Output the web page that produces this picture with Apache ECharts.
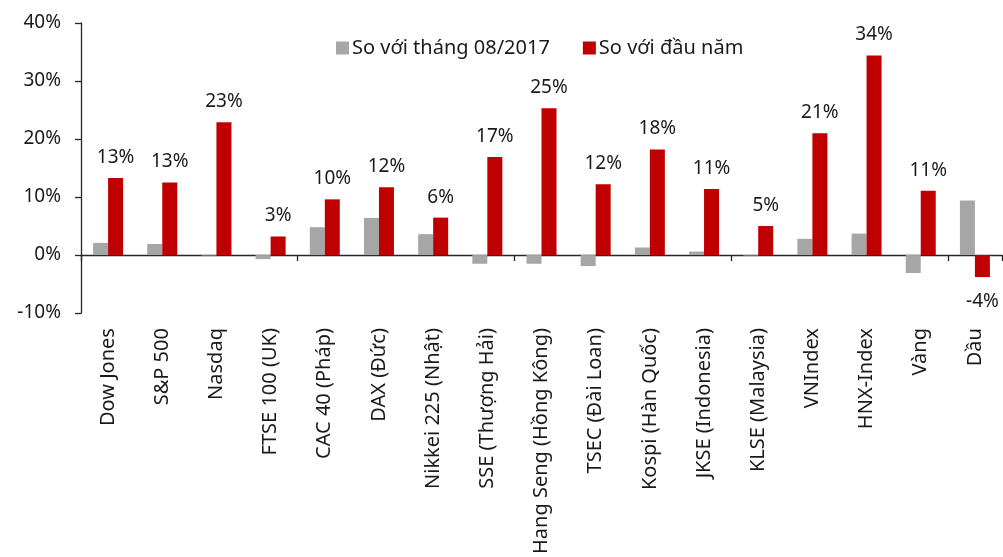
<!DOCTYPE html>
<html>
<head>
<meta charset="utf-8">
<script src="https://cdn.jsdelivr.net/npm/echarts@6/dist/echarts.min.js"></script>
<style>
  html, body { margin: 0; padding: 0; background: #fff; }
  #chart { width: 1003px; height: 557px; }
</style>
</head>
<body>
<div id="chart"></div>
<script>
// danh mục chỉ số
const categories = ['Dow Jones', 'S&P 500', 'Nasdaq', 'FTSE 100 (UK)', 'CAC 40 (Pháp)', 'DAX (Đức)',
  'Nikkei 225 (Nhật)', 'SSE (Thượng Hải)', 'Hang Seng (Hồng Kông)', 'TSEC (Đài Loan)', 'Kospi (Hàn Quốc)',
  'JKSE (Indonesia)', 'KLSE (Malaysia)', 'VNIndex', 'HNX-Index', 'Vàng', 'Dầu']
// so với tháng 08/2017 (%)
const vsMonth = [2.1, 1.9, -0.1, -0.7, 4.8, 6.4, 3.6, -1.5, -1.5, -1.9, 1.3, 0.6, -0.1, 2.8, 3.7, -3.1, 9.4]
// so với đầu năm (%)
const vsYear = [13.3, 12.5, 22.9, 3.2, 9.6, 11.7, 6.45, 16.9, 25.3, 12.2, 18.2, 11.4, 5.0, 21.0, 34.4, 11.1, -3.8]
const yTicks = [-10, 0, 10, 20, 30, 40]
const seriesNames = ['So với tháng 08/2017', 'So với đầu năm']

const FONT = 'Noto Sans'
const TXT = '#1a1a1a'
const AXIS = '#262626'

const chart = echarts.init(document.getElementById('chart'))

chart.setOption({
  animation: false,
  textStyle: { fontFamily: FONT },
  legend: {
    left: 331,
    top: 33,
    itemWidth: 13,
    itemHeight: 13,
    itemGap: 33,
    icon: 'rect',
    textStyle: { fontFamily: FONT, fontSize: 20, color: TXT, padding: [0, 0, 0, -2] },
    data: seriesNames
  },
  grid: { left: 81, right: 1, top: 23, bottom: 242 },
  xAxis: [
    {
      type: 'category',
      data: categories,
      axisLine: { onZero: true, lineStyle: { color: AXIS, width: 1.3 } },
      axisTick: { show: true, length: 6, lineStyle: { color: AXIS, width: 1.3 } },
      axisLabel: { show: false }
    },
    {
      type: 'category',
      data: categories,
      position: 'bottom',
      axisLine: { show: false, onZero: false },
      axisTick: { show: false },
      axisLabel: {
        rotate: 90,
        margin: 15,
        interval: 0,
        fontFamily: FONT,
        fontSize: 20,
        color: TXT
      }
    }
  ],
  yAxis: {
    type: 'value',
    min: yTicks[0],
    max: yTicks[yTicks.length - 1],
    interval: 10,
    splitLine: { show: false },
    axisLine: { show: true, lineStyle: { color: AXIS, width: 1.3 } },
    axisTick: { show: true, length: 6, lineStyle: { color: AXIS, width: 1.3 } },
    axisLabel: {
      margin: 20,
      fontFamily: FONT,
      fontSize: 19,
      color: TXT,
      formatter: v => v + '%'
    }
  },
  series: [
    {
      name: seriesNames[0],
      type: 'bar',
      xAxisIndex: 0,
      barWidth: 15,
      barGap: '0%',
      itemStyle: { color: '#a6a6a6' },
      data: vsMonth
    },
    {
      name: seriesNames[1],
      type: 'bar',
      xAxisIndex: 0,
      barWidth: 15,
      barGap: '0%',
      itemStyle: { color: '#c00000' },
      label: {
        show: true,
        position: 'top',
        distance: 11,
        fontFamily: FONT,
        fontSize: 19,
        color: TXT,
        formatter: p => Math.round(p.value) + '%'
      },
      data: vsYear.map(v => v < 0
        ? { value: v, label: { position: 'bottom', distance: 15 } }
        : v)
    }
  ]
})
</script>
</body>
</html>
